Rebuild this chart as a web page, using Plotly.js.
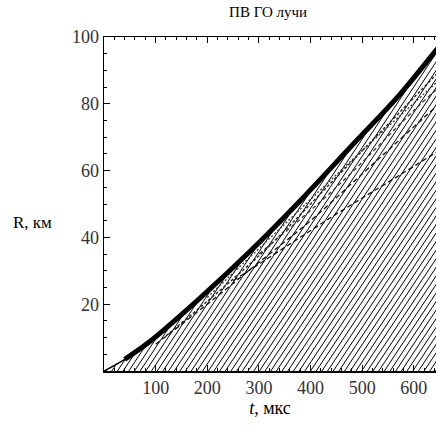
<!DOCTYPE html>
<html>
<head>
<meta charset="utf-8">
<script src="https://cdn.plot.ly/plotly-3.0.1.min.js"></script>
<style>html,body{margin:0;padding:0;background:#fff;overflow:hidden}#chart{width:436px;height:431px}</style>
</head>
<body>
<div id="chart"></div>
<script>
// Upper boundary (front) of the ray fan: t (мкс), R (км)
const frontT = [0, 40, 90, 187, 284, 380, 477, 574, 643, 670];
const frontR = [0, 3.5, 9, 22, 36, 51, 67, 83, 96, 101];
// Start times of the geometric-optics rays on R = 0 (мкс)
const rayStarts = [4, 15, 26, 37, 48, 59, 70, 81, 92, 103, 114, 125, 136, 147, 158, 169, 180,
  191, 202, 213, 224, 235, 246, 257, 268, 279, 290, 301, 312, 323, 334, 345, 356, 367, 378,
  389, 400, 411, 422, 433, 444, 455, 466, 477, 488, 499, 510, 521, 532, 543, 554, 565, 576,
  587, 598, 609, 620, 631, 642];
// Ray speed dR/dt (км/мкс)
const raySlope = 0.233;
// Secondary (dashed) curves inside the fan
const dashAT = [100, 200, 300, 400, 500, 670];
const dashAR = [8, 20, 32.5, 45, 59, 83];
const dashBT = [250, 350, 450, 550, 670];
const dashBR = [27, 37, 47, 56.5, 68];
const dashCT = [120, 300, 450, 670];
const dashCR = [10.5, 34.5, 58, 93];
const dashDT = [200, 350, 500, 670];
const dashDR = [22, 44, 66, 90];
const dashET = [300, 450, 600, 670];
const dashER = [35, 55, 78, 88];

function frontAt(t) {
  for (let i = 0; i < frontT.length - 1; i++) {
    if (t >= frontT[i] && t <= frontT[i + 1]) {
      const f = (t - frontT[i]) / (frontT[i + 1] - frontT[i]);
      return frontR[i] + f * (frontR[i + 1] - frontR[i]);
    }
  }
  return frontR[frontR.length - 1];
}
function hitTime(t0) {
  const tMax = frontT[frontT.length - 1];
  for (let t = t0 + 0.5; t <= tMax; t += 0.5) {
    if (raySlope * (t - t0) - frontAt(t) >= 0) return t;
  }
  return tMax;
}
const rx = [], ry = [];
rayStarts.forEach(t0 => {
  const t1 = hitTime(t0);
  rx.push(t0, t1, null);
  ry.push(0, raySlope * (t1 - t0), null);
});

const serif = 'Liberation Serif';
const dashLine = (xs, ys, c, w, d) => ({x: xs, y: ys, mode: 'lines',
  line: {color: c, width: w, dash: d, shape: 'spline'}, hoverinfo: 'skip'});
const traces = [
  {x: rx, y: ry, mode: 'lines', line: {color: '#000', width: 1.0}, connectgaps: false, hoverinfo: 'skip'},
  dashLine(dashAT, dashAR, '#111', 1.3, '5px,3px'),
  dashLine(dashBT, dashBR, '#111', 1.3, '5px,3px'),
  dashLine(dashCT, dashCR, '#222', 1.4, '3px,2px'),
  dashLine(dashDT, dashDR, '#333', 1.3, '2px,2px'),
  dashLine(dashET, dashER, '#333', 1.3, '4px,3px'),
  {x: frontT.slice(0, 3), y: frontR.slice(0, 3), mode: 'lines', line: {color: '#000', width: 1.5, shape: 'spline'}, hoverinfo: 'skip'},
  {x: frontT.slice(1), y: frontR.slice(1), mode: 'lines', line: {color: '#000', width: 5, shape: 'spline'}, hoverinfo: 'skip'}
];
const layout = {
  width: 436, height: 431,
  margin: {l: 104, r: 0, t: 37, b: 60},
  paper_bgcolor: '#fff', plot_bgcolor: '#fff',
  showlegend: false,
  font: {family: serif},
  title: {text: 'ПВ ГО лучи', font: {family: serif, size: 15, color: '#000'}, x: 0.615, xanchor: 'center', y: 0.972, yanchor: 'middle'},
  xaxis: {
    range: [0, 643], showgrid: false, zeroline: false,
    showline: true, linecolor: '#000', linewidth: 1.5, mirror: 'ticks',
    ticks: 'inside', ticklen: 6, tickcolor: '#000', tickwidth: 1,
    tickvals: [100, 200, 300, 400, 500, 600],
    minor: {ticks: 'inside', dtick: 20, ticklen: 3, tickcolor: '#000', tickwidth: 1},
    tickfont: {family: serif, size: 18, color: '#333'},
    title: {text: '<i>t</i>, мкс', font: {family: serif, size: 18, color: '#000'}, standoff: 4}
  },
  yaxis: {
    range: [0, 100], showgrid: false, zeroline: false,
    showline: true, linecolor: '#000', linewidth: 1.5,
    ticks: 'inside', ticklen: 6, tickcolor: '#000', tickwidth: 1,
    tickvals: [20, 40, 60, 80, 100],
    minor: {ticks: 'inside', dtick: 5, ticklen: 3, tickcolor: '#000', tickwidth: 1},
    tickfont: {family: serif, size: 18, color: '#333'}
  },
  annotations: [{
    text: 'R, км', xref: 'paper', yref: 'paper', x: -0.215, y: 0.445,
    xanchor: 'center', yanchor: 'middle', showarrow: false,
    font: {family: serif, size: 17, color: '#000'}
  }]
};
Plotly.newPlot('chart', traces, layout, {staticPlot: true, displayModeBar: false});
</script>
</body>
</html>
